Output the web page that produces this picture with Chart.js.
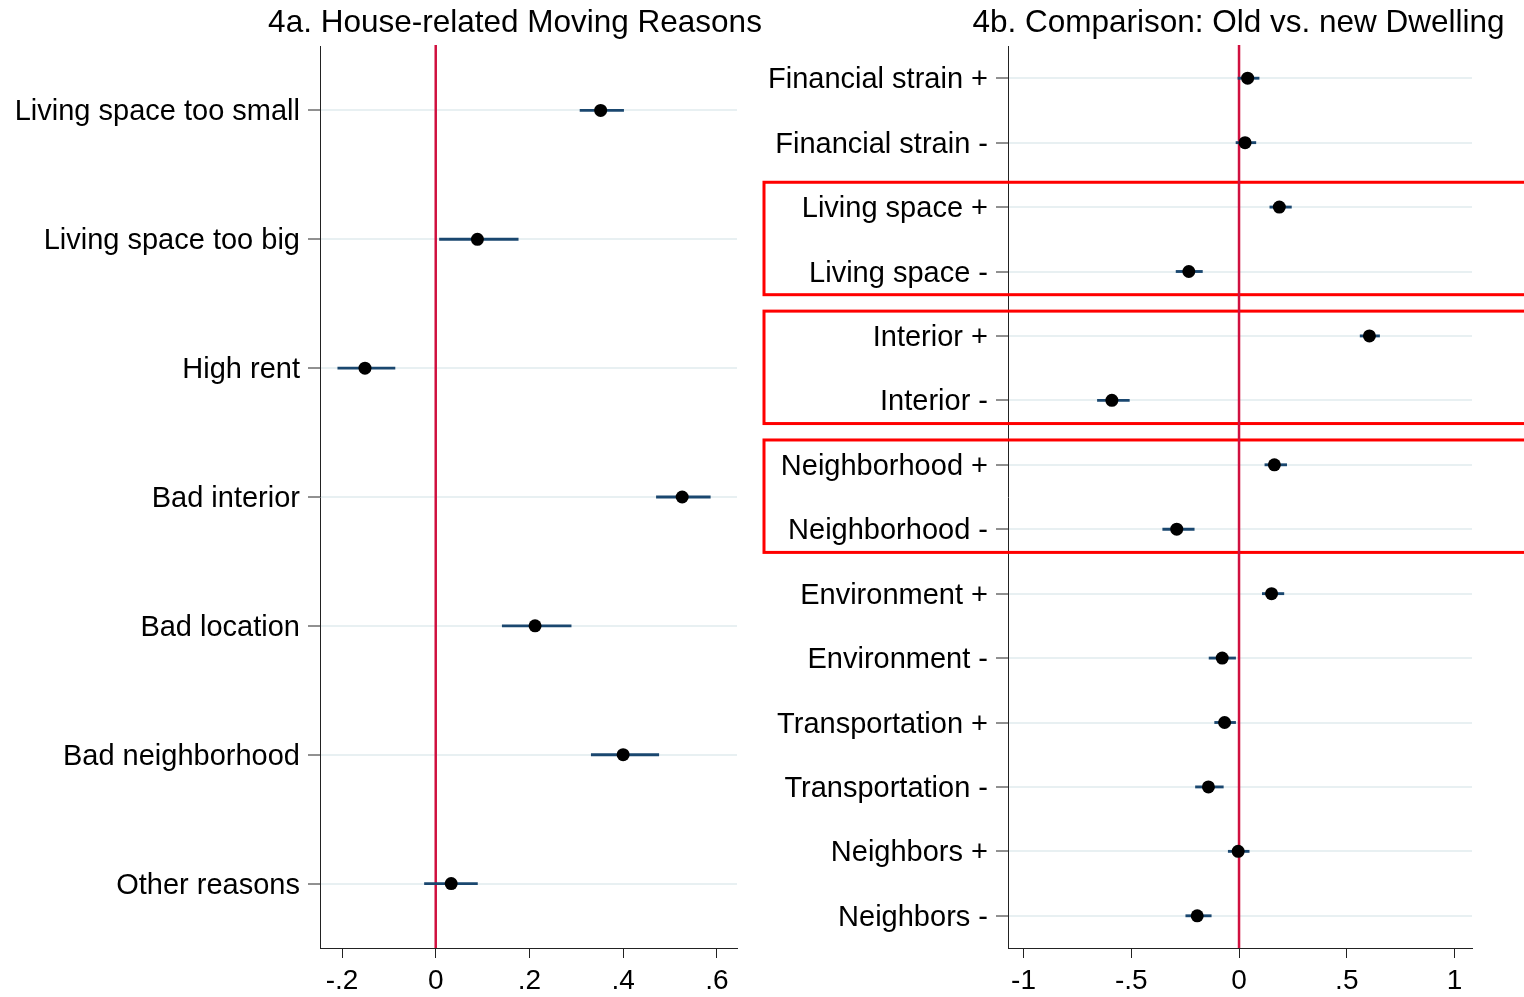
<!DOCTYPE html>
<html>
<head>
<meta charset="utf-8">
<script src="https://cdn.jsdelivr.net/npm/chart.js@4.4.1/dist/chart.umd.min.js"></script>
<style>
  html, body { margin: 0; padding: 0; background: #ffffff; }
  #wrapA { position: absolute; left: 0; top: 0; width: 770px; height: 997px; }
  #wrapB { position: absolute; left: 750px; top: 0; width: 774px; height: 997px; }
</style>
</head>
<body>
<div id="wrapA"><canvas id="chartA"></canvas></div>
<div id="wrapB"><canvas id="chartB"></canvas></div>
<script>
// ---- Data: panel 4a ----
const titleA = "4a. House-related Moving Reasons";
const categoriesA = ["Living space too small", "Living space too big", "High rent", "Bad interior", "Bad location", "Bad neighborhood", "Other reasons"];
const estimatesA = [0.352, 0.089, -0.151, 0.526, 0.212, 0.400, 0.033];
const lowerA     = [0.308, 0.008, -0.209, 0.471, 0.142, 0.332, -0.024];
const upperA     = [0.401, 0.176, -0.087, 0.586, 0.289, 0.476, 0.089];
const ticksA      = [-0.2, 0, 0.2, 0.4, 0.6];
const tickLabelsA = ["-.2", "0", ".2", ".4", ".6"];

// ---- Data: panel 4b ----
const titleB = "4b. Comparison: Old vs. new Dwelling";
const categoriesB = ["Financial strain +", "Financial strain -", "Living space +", "Living space -", "Interior +", "Interior -", "Neighborhood +", "Neighborhood -", "Environment +", "Environment -", "Transportation +", "Transportation -", "Neighbors +", "Neighbors -"];
const estimatesB = [0.040, 0.028, 0.187, -0.233, 0.605, -0.590, 0.164, -0.289, 0.151, -0.078, -0.067, -0.142, -0.004, -0.194];
const lowerB     = [-0.005, -0.014, 0.143, -0.292, 0.562, -0.657, 0.120, -0.354, 0.108, -0.139, -0.113, -0.202, -0.050, -0.247];
const upperB     = [0.093, 0.078, 0.243, -0.170, 0.652, -0.509, 0.221, -0.208, 0.208, -0.016, -0.016, -0.073, 0.047, -0.129];
const ticksB      = [-1, -0.5, 0, 0.5, 1];
const tickLabelsB = ["-1", "-.5", "0", ".5", "1"];
const highlightGroupsB = [[2, 3], [4, 5], [6, 7]];

const FONT = "'Liberation Sans', Arial, sans-serif";

const zeroLinePlugin = {
  id: 'zeroLine',
  beforeDatasetsDraw(chart, args, opts) {
    const { ctx, chartArea, scales } = chart;
    if (opts.groups) {
      ctx.save();
      ctx.strokeStyle = '#ff0000';
      ctx.lineWidth = 3;
      const step = scales.y.getPixelForValue(1) - scales.y.getPixelForValue(0);
      opts.groups.forEach(g => {
        const top = scales.y.getPixelForValue(g[0]) - step * 0.385;
        const bot = scales.y.getPixelForValue(g[1]) + step * 0.36;
        ctx.strokeRect(opts.boxLeft, top, chart.width - opts.boxLeft + 5, bot - top);
      });
      ctx.restore();
    }
    const x = scales.x.getPixelForValue(0);
    ctx.save();
    ctx.strokeStyle = '#d0103f';
    ctx.lineWidth = 2.5;
    ctx.beginPath();
    ctx.moveTo(x, chartArea.top - 1);
    ctx.lineTo(x, chartArea.bottom);
    ctx.stroke();
    ctx.restore();
  },
  afterDraw(chart, args, opts) {
    const { ctx } = chart;
    ctx.save();
    ctx.font = "31.5px " + FONT;
    ctx.fillStyle = '#000';
    ctx.textAlign = 'center';
    ctx.textBaseline = 'middle';
    ctx.fillText(opts.title, opts.titleX, 23);
    ctx.restore();
  }
};

function makeChart(id, cats, est, lo, hi, tickVals, tickLabs, xmin, xmax, yWidth, padRight, titleText, titleX, groups, pointR) {
  return new Chart(document.getElementById(id), {
    type: 'bar',
    data: {
      labels: cats,
      datasets: [
        {
          type: 'line',
          label: 'Estimate',
          data: est.map((v, i) => ({ x: v, y: cats[i] })),
          showLine: false,
          pointRadius: pointR,
          pointHoverRadius: pointR,
          pointBackgroundColor: '#000',
          pointBorderColor: '#000',
          pointBorderWidth: 0,
          order: 0
        },
        {
          label: 'CI',
          data: lo.map((v, i) => [v, hi[i]]),
          backgroundColor: '#1a476f',
          barThickness: 2.2,
          borderWidth: 0,
          order: 1
        }
      ]
    },
    options: {
      indexAxis: 'y',
      responsive: true,
      maintainAspectRatio: false,
      animation: false,
      layout: { padding: { top: 46, right: padRight, left: 0, bottom: 0 } },
      plugins: {
        legend: { display: false },
        tooltip: { enabled: false },
        title: { display: false },
        zeroLine: { title: titleText, titleX: titleX, groups: groups, boxLeft: 14 }
      },
      scales: {
        x: {
          type: 'linear',
          min: xmin,
          max: xmax,
          afterBuildTicks: (s) => { s.ticks = tickVals.map(v => ({ value: v })); },
          afterFit: (s) => { s.height = 49; },
          ticks: {
            callback: (v) => { const k = tickVals.indexOf(v); return k >= 0 ? tickLabs[k] : ''; },
            font: { family: FONT, size: 28 },
            color: '#000',
            padding: 6,
            maxRotation: 0,
            autoSkip: false
          },
          grid: { drawOnChartArea: false, drawTicks: true, tickLength: 10, tickColor: '#222', tickWidth: 1 },
          border: { display: true, color: '#222', width: 1 }
        },
        y: {
          type: 'category',
          offset: true,
          afterFit: (s) => { s.width = yWidth; },
          ticks: {
            font: { family: FONT, size: 29 },
            color: '#000',
            padding: 8,
            labelOffset: 2,
            autoSkip: false
          },
          grid: { offset: false, color: '#e8f0f2', lineWidth: 2, drawTicks: true, tickLength: 12, tickColor: '#222', tickWidth: 1 },
          border: { display: true, color: '#222', width: 1 }
        }
      }
    },
    plugins: [zeroLinePlugin]
  });
}

makeChart('chartA', categoriesA, estimatesA, lowerA, upperA, ticksA, tickLabelsA, -0.247, 0.643, 320, 33, titleA, 515, null, 6.5);
makeChart('chartB', categoriesB, estimatesB, lowerB, upperB, ticksB, tickLabelsB, -1.072, 1.081, 258, 52, titleB, 488.5, highlightGroupsB, 6.5);
</script>
</body>
</html>
